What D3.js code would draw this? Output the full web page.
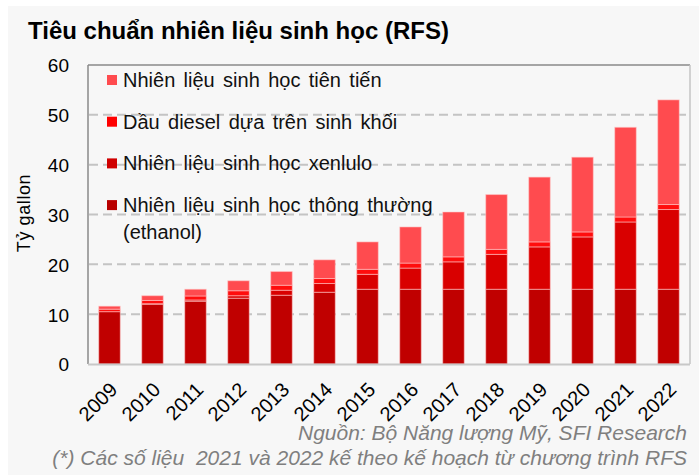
<!DOCTYPE html>
<html>
<head>
<meta charset="utf-8">
<script src="https://cdn.jsdelivr.net/npm/d3@7"></script>
<style>
  html, body { margin: 0; padding: 0; background: #ffffff; }
  svg { display: block; }
  text { font-family: "Liberation Sans", Arial, sans-serif; }
</style>
</head>
<body>
<script>
// ---- Data (billion gallons, EISA/RFS schedule) ----
const years = ["2009","2010","2011","2012","2013","2014","2015","2016","2017","2018","2019","2020","2021","2022"];
const ethanol    = [10.5, 12, 12.6, 13.2, 13.8, 14.4, 15, 15, 15, 15, 15, 15, 15, 15];
const cellulosic = [0, 0.1, 0.25, 0.5, 1, 1.75, 3, 4.25, 5.5, 7, 8.5, 10.5, 13.5, 16];
const biodiesel  = [0.5, 0.65, 0.8, 1, 1, 1, 1, 1, 1, 1, 1, 1, 1, 1];
const advanced   = [0.6, 0.95, 1.35, 2, 2.75, 3.75, 5.5, 7.25, 9, 11, 13, 15, 18, 21];
const seriesNames = [
  "Nhiên liệu sinh học thông thường (ethanol)",
  "Nhiên liệu sinh học xenlulo",
  "Dầu diesel dựa trên sinh khối",
  "Nhiên liệu sinh học tiên tiến"
];
const yTicks = [0, 10, 20, 30, 40, 50, 60];
const title = "Tiêu chuẩn nhiên liệu sinh học (RFS)";
const yLabel = "Tỷ gallon";
const note1 = "Nguồn: Bộ Năng lượng Mỹ, SFI Research";
const note2 = "(*) Các số liệu  2021 và 2022 kế theo kế hoạch từ chương trình RFS";

const colors = ["#c00000", "#d90000", "#ff0d0d", "#ff4b4f"];
const legendColors = ["#b80000", "#d00000", "#ff0000", "#ff4b4f"];

// ---- Layout ----
const W = 699, H = 475;
const L = 88, R = 690, T = 65, B = 364;

const svg = d3.select("body").append("svg").attr("width", W).attr("height", H);
svg.append("rect").attr("x", 8).attr("y", 6).attr("width", W - 8).attr("height", H - 6).attr("fill", "#f7f7f7");

const x = d3.scaleBand().domain(years).range([L, R]).paddingInner(0.5).paddingOuter(0.25);
const y = d3.scaleLinear().domain([0, 60]).range([B, T]);

// gridlines
svg.append("g").selectAll("line").data(yTicks.filter(t => t > 0 && t < 60)).join("line")
  .attr("x1", L + 1).attr("x2", R - 2)
  .attr("y1", d => y(d)).attr("y2", d => y(d))
  .attr("stroke", "#c4c4c4").attr("stroke-width", 2).attr("stroke-dasharray", "9,5");

// y axis tick labels via d3 axis
const yAxis = svg.append("g").attr("transform", `translate(${L},0)`)
  .call(d3.axisLeft(y).tickValues(yTicks).tickSize(0).tickPadding(19));
yAxis.select(".domain").remove();
yAxis.selectAll("text").attr("font-size", 19).attr("fill", "#000")
  .attr("font-family", "Liberation Sans, Arial, sans-serif").attr("dy", "0.36em");

// stacked data
const rows = years.map((yr, i) => ({ year: yr, s0: ethanol[i], s1: cellulosic[i], s2: biodiesel[i], s3: advanced[i] }));
const stack = d3.stack().keys(["s0", "s1", "s2", "s3"])(rows);

svg.append("g").selectAll("g").data(stack).join("g")
  .attr("fill", (d, i) => colors[i])
  .selectAll("rect").data(d => d).join("rect")
  .attr("x", d => x(d.data.year))
  .attr("width", x.bandwidth())
  .attr("y", d => y(d[1]))
  .attr("height", d => Math.max(0, y(d[0]) - y(d[1])))
  .attr("stroke", "rgba(255,200,200,0.55)").attr("stroke-width", 1);

// frame
svg.append("line").attr("x1", L).attr("x2", R).attr("y1", T).attr("y2", T).attr("stroke", "#8a8a8a").attr("stroke-width", 1.5);
svg.append("line").attr("x1", L).attr("x2", L).attr("y1", T).attr("y2", B).attr("stroke", "#8a8a8a").attr("stroke-width", 1.5);
svg.append("line").attr("x1", R).attr("x2", R).attr("y1", T).attr("y2", B).attr("stroke", "#c4c4c4").attr("stroke-width", 1.5);
svg.append("line").attr("x1", L).attr("x2", R).attr("y1", B + 0.5).attr("y2", B + 0.5).attr("stroke", "#c8c8c8").attr("stroke-width", 2);

// x axis labels via d3 axis
const xAxis = svg.append("g").attr("transform", `translate(0,${B})`)
  .call(d3.axisBottom(x).tickSize(0).tickPadding(0));
xAxis.select(".domain").remove();
xAxis.selectAll("text")
  .attr("font-size", 20).attr("fill", "#000")
  .attr("font-family", "Liberation Sans, Arial, sans-serif")
  .attr("text-anchor", "end")
  .attr("dy", 0).attr("y", 0)
  .attr("transform", "translate(9,27) rotate(-45)");

// legend
const legendOrder = [3, 2, 1, 0];
const lg = svg.append("g");
legendOrder.forEach((si, k) => {
  const yy = 87 + k * 41.7;
  lg.append("rect").attr("x", 107).attr("y", yy - 12).attr("width", 10).attr("height", 10).attr("fill", legendColors[si]);
  const txt = lg.append("text").attr("x", 123).attr("y", yy).attr("font-size", 20).attr("word-spacing", 2.8).attr("fill", "#111");
  if (si === 0) {
    txt.text("Nhiên liệu sinh học thông thường");
    lg.append("text").attr("x", 123).attr("y", yy + 26.5).attr("font-size", 20).attr("fill", "#111").text("(ethanol)");
  } else {
    txt.text(seriesNames[si]);
  }
});

// title
svg.append("text").attr("x", 28).attr("y", 39).attr("font-size", 24).attr("font-weight", "bold").attr("fill", "#000").text(title);

// y label
svg.append("text").attr("transform", "translate(30,213) rotate(-90)")
  .attr("text-anchor", "middle").attr("font-size", 18).attr("letter-spacing", 0.6).attr("fill", "#000").text(yLabel);

// notes
svg.append("text").attr("x", 687).attr("y", 440).attr("text-anchor", "end").attr("font-size", 21)
  .attr("font-style", "italic").attr("fill", "#7f7f7f").text(note1);
svg.append("text").attr("x", 687).attr("y", 465).attr("text-anchor", "end").attr("font-size", 21)
  .attr("font-style", "italic").attr("fill", "#7f7f7f").attr("xml:space", "preserve").style("white-space", "pre").text(note2);
</script>
</body>
</html>
